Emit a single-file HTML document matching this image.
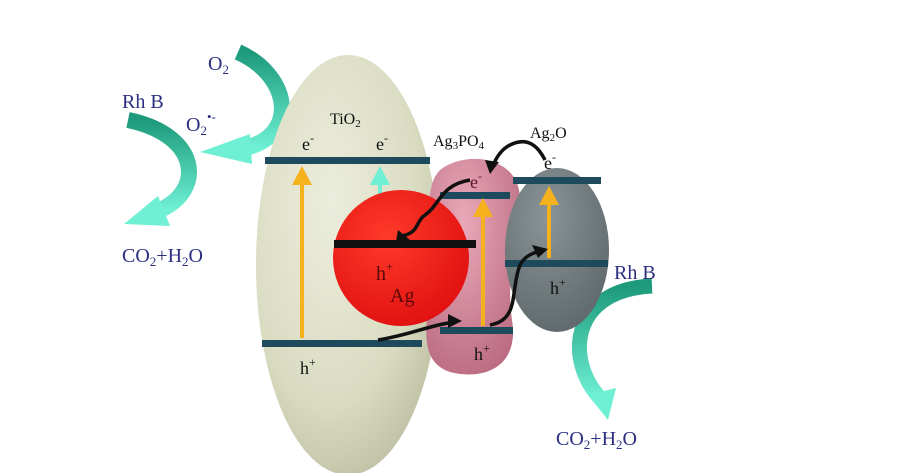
<!DOCTYPE html>
<html><head><meta charset="utf-8"><style>
html,body{margin:0;padding:0;background:#fff;}
svg{display:block;}
text{font-family:"Liberation Serif",serif;}
</style></head><body>
<svg width="900" height="473" viewBox="0 0 900 473" xmlns="http://www.w3.org/2000/svg">
<defs>
<radialGradient id="tio" cx="0.4" cy="0.35" r="0.7">
<stop offset="0" stop-color="#eceedd"/><stop offset="0.7" stop-color="#d9dbc1"/><stop offset="1" stop-color="#bfc0a4"/>
</radialGradient>
<radialGradient id="ag" cx="0.4" cy="0.35" r="0.7">
<stop offset="0" stop-color="#ff3a2a"/><stop offset="1" stop-color="#e01010"/>
</radialGradient>
<radialGradient id="pk" cx="0.4" cy="0.3" r="0.8">
<stop offset="0" stop-color="#e9a9b9"/><stop offset="1" stop-color="#b8687e"/>
</radialGradient>
<radialGradient id="gr" cx="0.4" cy="0.3" r="0.8">
<stop offset="0" stop-color="#8a9496"/><stop offset="1" stop-color="#5c6669"/>
</radialGradient>
<linearGradient id="gt" x1="0" y1="0" x2="0" y2="1">
<stop offset="0" stop-color="#1d9a7b"/><stop offset="1" stop-color="#6ff0d4"/>
</linearGradient>
</defs>

<!-- green curved arrows -->
<path d="M238,52 C290,75 300,135 245,148" fill="none" stroke="url(#gt)" stroke-width="16"/>
<polygon points="250,134 252,164 200,152" fill="#6ff0d4"/>
<path d="M128,120 C200,135 205,190 160,210" fill="none" stroke="url(#gt)" stroke-width="16"/>
<polygon points="158,196 170,226 124,224" fill="#6ff0d4"/>
<path d="M652,286 C570,290 565,360 600,398" fill="none" stroke="url(#gt)" stroke-width="15"/>
<polygon points="588,395 616,388 608,420" fill="#6ff0d4"/>

<!-- TiO2 -->
<ellipse cx="348" cy="265" rx="92" ry="210" fill="url(#tio)"/>
<rect x="265" y="157" width="165" height="7" fill="#1e4a5e"/>
<rect x="262" y="340" width="160" height="7" fill="#1e4a5e"/>
<line x1="302" y1="338" x2="302" y2="180" stroke="#f5b21d" stroke-width="4"/>
<polygon points="292,185 312,185 302,166" fill="#f5b21d"/>
<line x1="380" y1="240" x2="380" y2="180" stroke="#6ff0d4" stroke-width="4"/>
<polygon points="370,185 390,185 380,166" fill="#6ff0d4"/>

<!-- Ag3PO4 -->
<path d="M440,170 C465,150 520,155 520,200 C520,250 505,270 512,320 C520,370 480,380 450,372 C420,362 425,330 430,290 C435,240 420,190 440,170 Z" fill="url(#pk)"/>
<rect x="440" y="192" width="70" height="7" fill="#1e4a5e"/>
<rect x="440" y="327" width="73" height="7" fill="#1e4a5e"/>
<line x1="483" y1="326" x2="483" y2="212" stroke="#f5b21d" stroke-width="4"/>
<polygon points="473,217 493,217 483,198" fill="#f5b21d"/>

<!-- Ag2O -->
<ellipse cx="557" cy="250" rx="52" ry="82" fill="url(#gr)"/>
<rect x="513" y="177" width="88" height="7" fill="#1e4a5e"/>
<rect x="505" y="260" width="103" height="7" fill="#1e4a5e"/>
<line x1="549" y1="258" x2="549" y2="200" stroke="#f5b21d" stroke-width="4"/>
<polygon points="539,205 559,205 549,186" fill="#f5b21d"/>

<!-- Ag -->
<circle cx="401" cy="258" r="68" fill="url(#ag)"/>
<rect x="334" y="240" width="142" height="8" fill="#111"/>

<!-- black arrows -->
<path d="M470,180 C440,185 440,205 425,215 C415,222 420,232 402,236" fill="none" stroke="#111" stroke-width="3.5"/>
<polygon points="398,230 410,240 396,242" fill="#111"/>
<path d="M545,160 C540,150 530,135 510,145 C500,150 495,160 492,168" fill="none" stroke="#111" stroke-width="3.5"/>
<polygon points="485,160 499,162 490,174" fill="#111"/>
<path d="M378,340 C410,335 430,325 455,322" fill="none" stroke="#111" stroke-width="3.5"/>
<polygon points="448,314 462,321 448,328" fill="#111"/>
<path d="M490,325 C520,320 510,290 520,265 C525,255 535,252 545,250" fill="none" stroke="#111" stroke-width="3.5"/>
<polygon points="532,245 548,249 538,258" fill="#111"/>

<!-- labels -->
<g fill="#2b2f80" font-size="20">
<text x="208" y="70">O<tspan font-size="13" dy="4">2</tspan></text>
<text x="186" y="131">O<tspan font-size="13" dy="4">2</tspan><tspan font-size="13" dy="-14">•-</tspan></text>
<text x="122" y="108">Rh B</text>
<text x="122" y="262">CO<tspan font-size="13" dy="4">2</tspan><tspan dy="-4">+H</tspan><tspan font-size="13" dy="4">2</tspan><tspan dy="-4">O</tspan></text>
<text x="614" y="279">Rh B</text>
<text x="556" y="445">CO<tspan font-size="13" dy="4">2</tspan><tspan dy="-4">+H</tspan><tspan font-size="13" dy="4">2</tspan><tspan dy="-4">O</tspan></text>
</g>
<g fill="#111" font-size="18">
<text x="330" y="124" font-size="16">TiO<tspan font-size="11" dy="3">2</tspan></text>
<text x="302" y="150">e<tspan font-size="12" dy="-8">-</tspan></text>
<text x="376" y="150">e<tspan font-size="12" dy="-8">-</tspan></text>
<text x="433" y="146" font-size="16">Ag<tspan font-size="11" dy="3">3</tspan><tspan dy="-3">PO</tspan><tspan font-size="11" dy="3">4</tspan></text>
<text x="530" y="138" font-size="16">Ag<tspan font-size="11" dy="3">2</tspan><tspan dy="-3">O</tspan></text>
<text x="544" y="169">e<tspan font-size="12" dy="-8">-</tspan></text>
<text x="300" y="374">h<tspan font-size="12" dy="-8">+</tspan></text>
<text x="474" y="360">h<tspan font-size="12" dy="-8">+</tspan></text>
<text x="550" y="294">h<tspan font-size="12" dy="-8">+</tspan></text>
</g>
<text x="470" y="188" fill="#5a1030" font-size="18">e<tspan font-size="12" dy="-8">-</tspan></text>
<g fill="#5a0808" font-size="20">
<text x="376" y="280">h<tspan font-size="13" dy="-9">+</tspan></text>
<text x="390" y="302">Ag</text>
</g>
</svg>
</body></html>
